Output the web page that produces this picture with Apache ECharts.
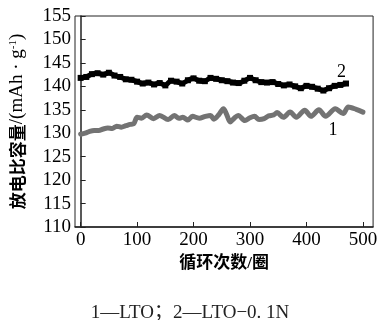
<!DOCTYPE html>
<html><head><meta charset="utf-8">
<script src="https://cdn.jsdelivr.net/npm/echarts@6/dist/echarts.min.js"></script>
<style>html,body{margin:0;padding:0;background:#fff}#c{width:380px;height:320px}</style>
</head><body><div id="c"></div>
<script>
const xTicks = [0, 100, 200, 300, 400, 500];
const cycles2 = [0,10,20,30,40,50,60,70,80,90,100,110,120,130,140,150,160,170,180,190,200,210,220,230,240,250,260,270,280,290,300,310,320,330,340,350,360,370,380,390,400,410,420,430,440,450,460,470];
const cap2 = [141.8,142.0,142.6,142.8,142.5,142.9,142.3,142.0,141.5,141.4,141.0,140.6,140.8,140.4,140.7,140.2,141.2,141.0,140.6,141.3,141.7,141.2,141.1,141.8,141.6,141.3,141.1,140.8,140.7,141.2,141.8,141.3,140.9,140.8,140.9,140.5,140.2,140.4,140.0,139.6,140.1,139.9,139.5,139.1,139.6,140.1,140.3,140.6];
const cycles1 = [0,8,16,24,32,40,48,56,64,72,80,88,94,100,108,117,129,140,155,166,174,181,190,198,210,221,230,236,245,253,258,265,272,279,291,300,308,316,325,333,342,348,359,371,382,397,408,422,434,451,465,474,488,500];
const cap1 = [129.8,130.0,130.4,130.6,130.6,130.9,131.1,131.0,131.5,131.3,131.6,131.9,132.0,133.4,133.2,133.9,133.1,133.8,132.9,133.8,133.2,133.4,132.8,133.6,133.2,133.6,133.8,133.0,134.0,135.2,134.2,132.4,133.2,133.8,132.7,133.3,133.6,132.9,133.1,133.7,133.9,134.4,133.4,134.5,133.4,134.9,133.6,135.0,133.6,135.2,134.2,135.6,135.1,134.5];
const label1 = {name: '1', x: 447, y: 130.6};
const label2 = {name: '2', x: 462, y: 143.0};
const yNameCn = '放电比容量';
const yNameUnit = '/(mAh · g';
const yNameSup = '-1';
const xName = '循环次数/圈';
const caption = '1—LTO；2—LTO−0. 1N';

const chart = echarts.init(document.getElementById('c'), null, {renderer: 'canvas'});
const serif = '"Liberation Serif", "Noto Sans CJK SC", serif';
chart.setOption({
  animation: false,
  backgroundColor: '#fff',
  title: {
    text: caption, left: 'center', top: 299,
    textStyle: {fontFamily: '"Liberation Serif", "Noto Sans CJK SC"', fontSize: 19, fontWeight: 'normal', color: '#222'}
  },
  grid: {left: 70, right: 4, top: 16, bottom: 93, show: true, borderColor: '#222', borderWidth: 1, backgroundColor: 'transparent'},
  xAxis: {
    type: 'value', min: -10, max: 518,
    name: xName, nameLocation: 'middle', nameGap: 25,
    nameTextStyle: {fontFamily: serif, fontSize: 17, fontWeight: 'bold', color: '#000'},
    axisLine: {show: true, lineStyle: {color: '#222', width: 1.5}},
    axisTick: {show: true, inside: true, length: 5, customValues: xTicks, lineStyle: {color: '#222'}},
    axisLabel: {customValues: xTicks, margin: 4, fontFamily: serif, fontSize: 19, color: '#000'},
    splitLine: {show: false}
  },
  yAxis: {
    type: 'value', min: 110, max: 155, interval: 5,
    name: '{cn|' + yNameCn + '}{la|' + yNameUnit + '}{sup|' + yNameSup + '}{la|)}',
    nameLocation: 'middle', nameGap: 48, nameRotate: 90,
    nameTextStyle: {
      color: '#000',
      rich: {
        cn: {fontFamily: '"Noto Sans CJK SC"', fontSize: 17, fontWeight: 'bold', color: '#000'},
        la: {fontFamily: '"Liberation Serif"', fontSize: 19, color: '#000'},
        sup: {fontFamily: '"Liberation Serif"', fontSize: 11, color: '#000', verticalAlign: 'top', padding: [0, 0, 8, 0]}
      }
    },
    axisLine: {show: true, lineStyle: {color: '#222', width: 1.5}},
    axisTick: {show: true, inside: true, length: 5, lineStyle: {color: '#222'}},
    axisLabel: {margin: 4, fontFamily: serif, fontSize: 19, color: '#000'},
    splitLine: {show: false}
  },
  series: [
    {
      type: 'line', name: '1', data: cycles1.map((c, i) => [c, cap1[i]]),
      showSymbol: false, smooth: 0.3,
      lineStyle: {color: '#737373', width: 5, join: 'round', cap: 'round'},
      markPoint: {symbol: 'circle', symbolSize: 0, data: [{coord: [label1.x, label1.y], value: label1.name}],
        label: {show: true, formatter: label1.name, position: 'inside', fontFamily: serif, fontSize: 18, color: '#000'}}
    },
    {
      type: 'line', name: '2', data: cycles2.map((c, i) => [c, cap2[i]]),
      symbol: 'rect', symbolSize: 6, showAllSymbol: true, smooth: 0.2,
      itemStyle: {color: '#000'},
      lineStyle: {color: '#000', width: 5, join: 'round'},
      markPoint: {symbol: 'circle', symbolSize: 0, data: [{coord: [label2.x, label2.y], value: label2.name}],
        label: {show: true, formatter: label2.name, position: 'inside', fontFamily: serif, fontSize: 18, color: '#000'}}
    }
  ]
});
</script></body></html>
